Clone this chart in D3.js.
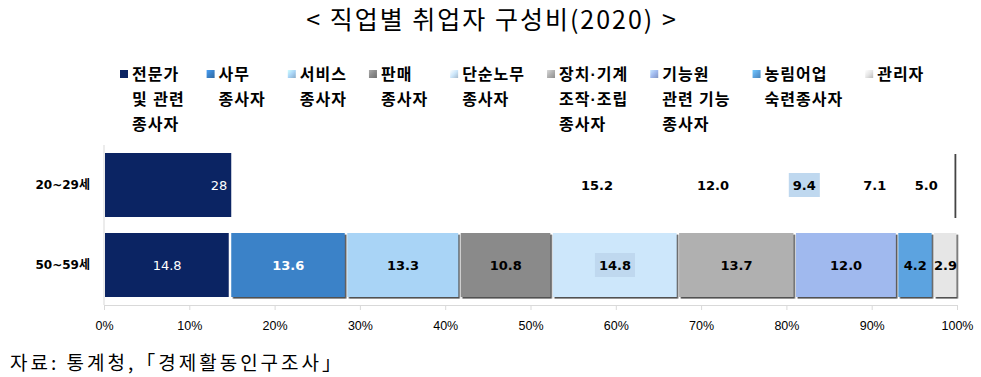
<!DOCTYPE html>
<html>
<head>
<meta charset="utf-8">
<script src="https://cdn.jsdelivr.net/npm/d3@7"></script>
<style>
body { margin: 0; background: #fff; }
svg { display: block; }
</style>
</head>
<body>
<script>
const w = 981;
const h = 377;

// data
const series = [
	['전문가', '및 관련', '종사자'],
	['사무', '종사자'],
	['서비스', '종사자'],
	['판매', '종사자'],
	['단순노무', '종사자'],
	['장치·기계', '조작·조립', '종사자'],
	['기능원', '관련 기능', '종사자'],
	['농림어업', '숙련종사자'],
	['관리자']
];
const rows = ['20~29세', '50~59세'];
const values20 = [28, 22.2, 15.2, 12.0, 9.4, 7.1, 5.0, 0.3, 0.8];
const values50 = [14.8, 13.6, 13.3, 10.8, 14.8, 13.7, 12.0, 4.2, 2.9];
const labels20 = ['28', '', '15.2', '12.0', '9.4', '7.1', '5.0', '', ''];
const ticks = [0, 10, 20, 30, 40, 50, 60, 70, 80, 90, 100];

const colors = ['#0b2463', '#3b82c8', '#a9d4f6', '#8a8a8a', '#cde7fb', '#b0b0b0', '#a0b9ee', '#5ca3e0', '#e6e6e6'];
const labelColors = ['#fff', '#fff', '#000', '#000', '#000', '#000', '#000', '#000', '#000'];

const svg = d3.select('body').append('svg')
	.attr('width', w)
	.attr('height', h);

const defs = svg.append('defs');
defs.append('filter')
	.attr('id', 'shadow')
	.attr('x', '-10%').attr('y', '-10%').attr('width', '130%').attr('height', '130%')
	.append('feDropShadow')
	.attr('dx', 1.6).attr('dy', 1.6).attr('stdDeviation', 0.6)
	.attr('flood-color', '#333').attr('flood-opacity', 0.85);

colors.forEach((c, i) => {
	const g = defs.append('linearGradient').attr('id', 'lg' + i)
		.attr('x1', 0).attr('y1', 0).attr('x2', 1).attr('y2', 1);
	g.append('stop').attr('offset', '0%').attr('stop-color', d3.color(c).brighter(0.6));
	g.append('stop').attr('offset', '50%').attr('stop-color', c);
	g.append('stop').attr('offset', '100%').attr('stop-color', d3.color(c).darker(0.6));
});

// title
svg.append('text')
	.attr('x', 492).attr('y', 29)
	.attr('text-anchor', 'middle')
	.style('font-family', '"Noto Sans CJK KR", sans-serif')
	.style('font-size', '25px')
	.style('letter-spacing', '2px')
	.text('< 직업별 취업자 구성비(2020) >');

// legend
let lx = 132;
series.forEach((lines, i) => {
	const g = svg.append('g');
	g.append('rect')
		.attr('x', lx - 12).attr('y', 70)
		.attr('width', 8).attr('height', 8)
		.attr('fill', i === 0 ? colors[0] : 'url(#lg' + i + ')');
	let maxW = 0;
	lines.forEach((t, j) => {
		const tx = g.append('text')
			.attr('x', lx).attr('y', 80 + j * 25)
			.style('font-family', '"Liberation Sans", "Noto Sans CJK KR", sans-serif')
			.style('font-size', '16px')
			.style('font-weight', 'bold')
			.style('letter-spacing', '1px')
			.text(t);
		maxW = Math.max(maxW, tx.node().getComputedTextLength());
	});
	lx += maxW + 34;
});

// scales
const x = d3.scaleLinear().domain([0, 100]).range([104, 957]);
const y = d3.scaleBand().domain(rows).range([145, 305]).paddingInner(0.2).paddingOuter(0.1);

// axes
svg.append('line')
	.attr('x1', x(0)).attr('x2', x(0))
	.attr('y1', 145).attr('y2', 305)
	.attr('stroke', '#d9d9d9');

const xAxis = svg.append('g')
	.attr('transform', `translate(0,305)`)
	.call(d3.axisBottom(x).tickValues(ticks).tickFormat(d => d + '%').tickSize(5).tickPadding(11));
xAxis.select('.domain').attr('stroke', '#d9d9d9');
xAxis.selectAll('.tick line').attr('stroke', '#d9d9d9');
xAxis.selectAll('.tick text')
	.style('font-family', '"Liberation Sans", sans-serif')
	.style('font-size', '12.5px')
	.attr('fill', '#000');

svg.selectAll('.rowlabel')
	.data(rows)
	.enter()
	.append('text')
	.attr('x', 90)
	.attr('y', d => y(d) + y.bandwidth() / 2)
	.attr('dy', '0.36em')
	.attr('text-anchor', 'end')
	.style('font-family', '"DejaVu Sans", "Noto Sans CJK KR", sans-serif')
	.style('font-size', '12px')
	.style('font-weight', 'bold')
	.text(d => d);

// stacked data
const table = [values20, values50].map(v => Object.assign({}, v));
const stacked = d3.stack().keys(d3.range(series.length))(table);

// 50~59 row: all segments drawn
const r50 = rows[1];
stacked.forEach((layer, i) => {
	const d = layer[1];
	svg.append('rect')
		.attr('x', x(d[0]) + 1)
		.attr('y', y(r50))
		.attr('width', Math.max(0, x(d[1]) - x(d[0]) - 2.5))
		.attr('height', y.bandwidth())
		.attr('fill', colors[i])
		.attr('filter', i === 0 ? null : 'url(#shadow)');
});

// 20~29 row: as in the picture, only the first segment is painted,
// cut at the width of the 50~59 first segment; the last segment shows only its edge shadow
const r20 = rows[0];
const cut20 = x(values50[0]);
defs.append('clipPath').attr('id', 'clip20')
	.append('rect')
	.attr('x', x(0)).attr('y', y(r20))
	.attr('width', cut20 - x(0) + 1)
	.attr('height', y.bandwidth() + 2);
svg.append('rect')
	.attr('x', x(stacked[0][0][0]) + 1)
	.attr('y', y(r20))
	.attr('width', x(stacked[0][0][1]) - x(stacked[0][0][0]) - 2)
	.attr('height', y.bandwidth())
	.attr('fill', colors[0])
	.attr('clip-path', 'url(#clip20)');
const last20 = stacked[series.length - 1][0];
svg.append('rect')
	.attr('x', x(last20[1]) - 2.5)
	.attr('y', y(r20) + 1)
	.attr('width', 1.8)
	.attr('height', y.bandwidth())
	.attr('fill', '#444');

// labels
function addLabel(text, cx, cy, i, anchor) {
	if (!text) return;
	const t = svg.append('text')
		.attr('x', cx).attr('y', cy)
		.attr('dy', '0.36em')
		.attr('text-anchor', anchor || 'middle')
		.style('font-family', '"DejaVu Sans", sans-serif')
		.style('font-size', '13px')
		.style('font-weight', i === 0 ? 'normal' : 'bold')
		.attr('fill', labelColors[i])
		.text(text);
	if (i === 4) {
		const bw = t.node().getComputedTextLength() + 8;
		svg.insert('rect', () => t.node())
			.attr('x', cx - bw / 2).attr('y', cy - 12)
			.attr('width', bw).attr('height', 24)
			.attr('fill', '#bfd8ef');
	}
}
stacked.forEach((layer, i) => {
	const a = layer[0];
	if (i === 0) {
		// the label sits inside the visible (cut) part of the bar
		addLabel(labels20[i], cut20 - 3, y(r20) + y.bandwidth() / 2, i, 'end');
	} else {
		addLabel(labels20[i], x((a[0] + a[1]) / 2), y(r20) + y.bandwidth() / 2, i);
	}
	const b = layer[1];
	addLabel(d3.format('.1f')(values50[i]), x((b[0] + b[1]) / 2), y(r50) + y.bandwidth() / 2, i);
});

// source
svg.append('text')
	.attr('x', 10).attr('y', 370)
	.style('font-family', '"Noto Sans CJK KR", sans-serif')
	.style('font-size', '19px')
	.style('letter-spacing', '3px')
	.text('자료: 통계청,「경제활동인구조사」');
</script>
</body>
</html>
